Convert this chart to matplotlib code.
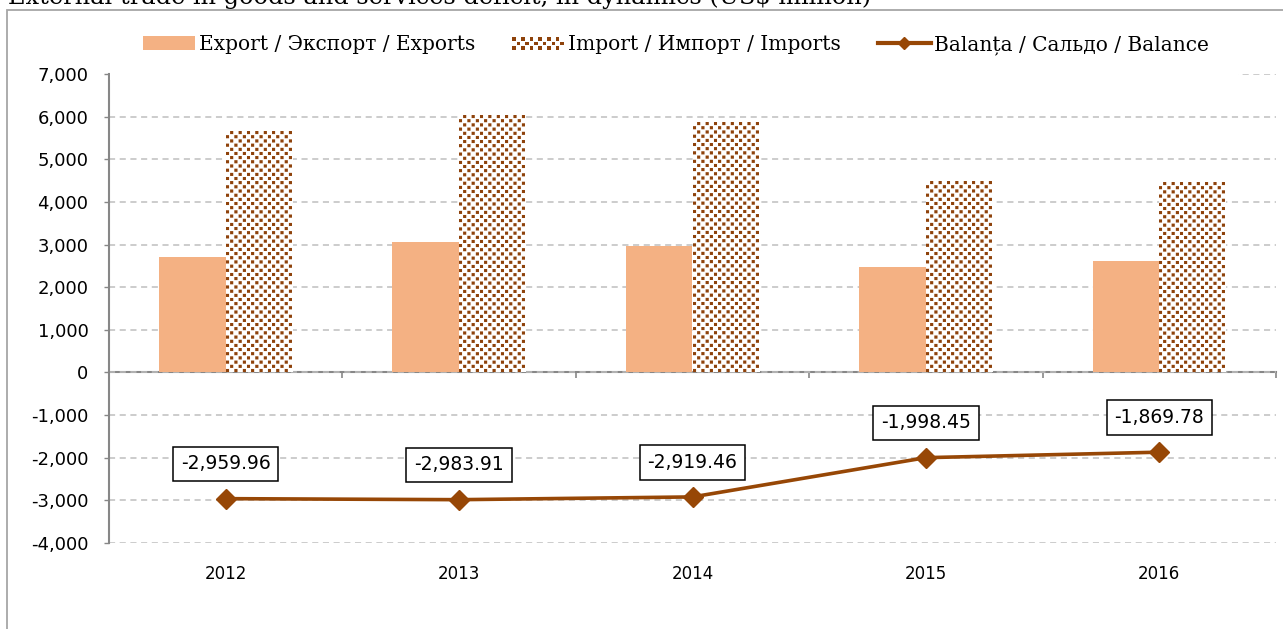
import numpy as np
import matplotlib
matplotlib.use('Agg')
import matplotlib.pyplot as plt
from matplotlib.patches import Rectangle
from matplotlib.legend_handler import HandlerBase
from matplotlib.lines import Line2D
from matplotlib.ticker import FuncFormatter

years = ['2012', '2013', '2014', '2015', '2016']
exports = [2699.9, 3048.5, 2955.2, 2481.6, 2605.1]
balance = [-2959.96, -2983.91, -2919.46, -1998.45, -1869.78]
imports = [e - b for e, b in zip(exports, balance)]

title = 'External trade in goods and services deficit, in dynamics (US$ million)'
legend_labels = ['Export / Экспорт / Exports',
                 'Import / Импорт / Imports',
                 'Balanța / Сальдо / Balance']

PEACH = '#F4B183'
BROWN = '#8E420B'
LINE = '#974706'
GRAY = '#878787'
GRID = '#BFBFBF'

W, H = 1283, 629
fig = plt.figure(figsize=(W / 100, H / 100), dpi=100)
ax = fig.add_axes([109 / W, 1 - 543 / H, 1167 / W, 469 / H])

x = np.arange(len(years))
bw = 0.286
ax.set_xlim(-0.5, len(years) - 0.5)
ax.set_ylim(-4000, 7000)

# export bars
ax.bar(x - bw / 2, exports, width=bw, color=PEACH, zorder=2)

# import bars: checkerboard texture clipped to the bar
cell = 4.15
sub = 4
imp_bars = ax.bar(x + bw / 2, imports, width=bw, color='white', zorder=2)
for rect in imp_bars:
    x0, y0 = rect.get_x(), rect.get_y()
    x1, y1 = x0 + rect.get_width(), y0 + rect.get_height()
    p0 = ax.transData.transform((x0, y0))
    p1 = ax.transData.transform((x1, y1))
    nc = max(1, int(round(abs(p1[0] - p0[0]) / cell)))
    nr = max(1, int(round(abs(p1[1] - p0[1]) / cell)))
    ii, jj = np.indices((nr * sub, nc * sub))
    ci, cj = ii // sub, jj // sub
    mask = ((ci + cj) % 2 == 0) & (ii % sub < sub - 1) & (jj % sub < sub - 1)
    img = np.ones((nr * sub, nc * sub, 4))
    img[mask, :3] = matplotlib.colors.to_rgb(BROWN)
    im = ax.imshow(img, extent=(x0, x1, y0, y1), origin='lower',
                   interpolation='antialiased', aspect='auto', zorder=2.5)
    im.set_clip_path(rect)
ax.set_aspect('auto')
ax.set_xlim(-0.5, len(years) - 0.5)
ax.set_ylim(-4000, 7000)

# balance line
ax.plot(x, balance, color=LINE, lw=2.6, marker='D', ms=10, zorder=4)
for xi, v in zip(x, balance):
    ax.annotate(f'{v:,.2f}', xy=(xi, v), xytext=(0, 25), textcoords='offset points',
                ha='center', va='center', fontsize=13.5, family='DejaVu Sans',
                bbox=dict(boxstyle='square,pad=0.42', fc='white', ec='black', lw=1.1),
                zorder=6)

# axes styling
ax.set_yticks(np.arange(-4000, 7001, 1000))
ax.yaxis.set_major_formatter(FuncFormatter(lambda v, p: f'{v:,.0f}'))
ax.grid(axis='y', color=GRID, ls=(0, (4, 3)), lw=1.1, zorder=0)
ax.set_axisbelow(True)
for s in ['top', 'right', 'bottom']:
    ax.spines[s].set_visible(False)
ax.spines['left'].set_color(GRAY)
ax.spines['left'].set_linewidth(1.5)
ax.tick_params(axis='y', length=3.8, width=1, color=GRAY, pad=11, labelsize=13)
ax.set_xticks(x)
ax.set_xticklabels(years)
ax.tick_params(axis='x', length=0, pad=16, labelsize=12)
for t in ax.get_xticklabels() + ax.get_yticklabels():
    t.set_family('DejaVu Sans')

# zero axis with category boundary ticks
zax = ax.secondary_xaxis(4 / 11)
zax.set_xticks(np.arange(-0.5, len(years), 1.0))
zax.set_xticklabels([])
zax.tick_params(axis='x', direction='out', length=4.5, width=1.2, color=GRAY)
zax.spines['bottom'].set_color(GRAY)
zax.spines['bottom'].set_linewidth(1.5)

# chart frame and title
fig.patches.append(Rectangle((7 / W, -0.1), 1.2, 1.1 - 10 / H, transform=fig.transFigure,
                             fill=False, ec='#A6A6A6', lw=1.3, zorder=0))
fig.text(8 / W, 1 - 4 / H, title, ha='left', va='baseline', fontsize=17.3,
         family='DejaVu Serif')

# legend background covering the top gridline
fig.patches.append(Rectangle((110 / W, 1 - 80 / H), (1238 - 110) / W, 64 / H,
                             transform=fig.transFigure, fc='white', ec='none', zorder=3))


class CheckerHandler(HandlerBase):
    def create_artists(self, legend, orig_handle, xdescent, ydescent, width, height,
                       fontsize, trans):
        arts = []
        nx, ny = 12, 3
        cw, ch = width / nx, height / ny
        for i in range(nx):
            for j in range(ny):
                if (i + j) % 2 == 0:
                    arts.append(Rectangle((-xdescent + i * cw, -ydescent + j * ch),
                                          cw * 0.8, ch * 0.8,
                                          fc=BROWN, ec='none', transform=trans))
        return arts


h_exp = Rectangle((0, 0), 1, 1, fc=PEACH, ec='none')
h_imp = Rectangle((0, 0), 1, 1, fc='white', ec='none')
h_bal = Line2D([], [], color=LINE, lw=3, marker='D', ms=6)
leg = fig.legend([h_exp, h_imp, h_bal], legend_labels, loc='center',
                 bbox_to_anchor=(676 / W, 1 - 45 / H), ncol=3, frameon=False,
                 prop={'family': 'DejaVu Serif', 'size': 14.5},
                 handlelength=2.6, handleheight=0.65, handletextpad=0.18,
                 columnspacing=1.85, handler_map={h_imp: CheckerHandler()})
leg.set_zorder(5)

fig.savefig('out.png', dpi=100)
